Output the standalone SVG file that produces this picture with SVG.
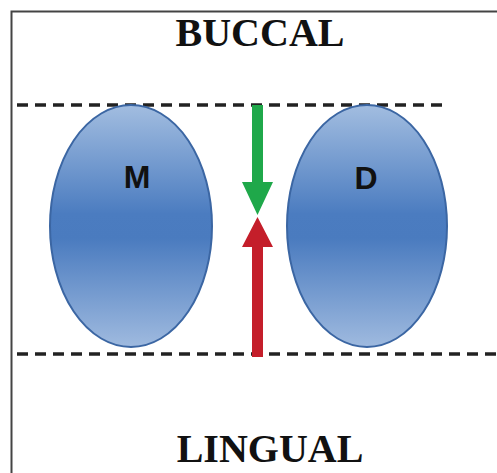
<svg xmlns="http://www.w3.org/2000/svg" width="497" height="473" viewBox="0 0 497 473">
<style>
.title{font-family:"Liberation Serif","Times New Roman",serif;font-weight:bold;font-size:40px;fill:#111;text-anchor:middle}
.lbl{font-family:"Liberation Sans",Arial,sans-serif;font-weight:bold;font-size:32px;fill:#111;text-anchor:middle}
.dash{stroke:#222;stroke-width:3.5;stroke-dasharray:11 7;fill:none}
.tooth{fill:url(#g);stroke:#3b66a3;stroke-width:2}
</style>
<defs>
<linearGradient id="g" x1="0" y1="0" x2="0" y2="1">
<stop offset="0" stop-color="#a2bde0"/>
<stop offset="0.45" stop-color="#4b7cc0"/>
<stop offset="0.55" stop-color="#4a7bbf"/>
<stop offset="1" stop-color="#9fbadf"/>
</linearGradient>
</defs>
<rect width="497" height="473" fill="#fff"/>
<path d="M11.5 473 V11.5 H497" fill="none" stroke="#444" stroke-width="2"/>
<g id="buccal"><text class="title" x="260" y="46">BUCCAL</text></g>
<g id="lingual"><text class="title" x="270" y="462">LINGUAL</text></g>
<g id="connectors">
<line class="dash" x1="17" y1="105" x2="447" y2="105"/>
<line class="dash" x1="17" y1="354" x2="497" y2="354"/>
</g>
<g id="tooth-m">
<ellipse class="tooth" cx="131" cy="226" rx="81" ry="121"/>
<text class="lbl" x="137" y="188">M</text>
</g>
<g id="tooth-d">
<ellipse class="tooth" cx="367" cy="226" rx="80" ry="121"/>
<text class="lbl" x="366" y="189">D</text>
</g>
<g id="arrows">
<polygon fill="#1fa84a" points="252,105 263,105 263,182 273,182 257.5,215 242,182 252,182"/>
<polygon fill="#c41e2a" points="252,357 263,357 263,247 273,247 257.5,217 242,247 252,247"/>
</g>
</svg>
